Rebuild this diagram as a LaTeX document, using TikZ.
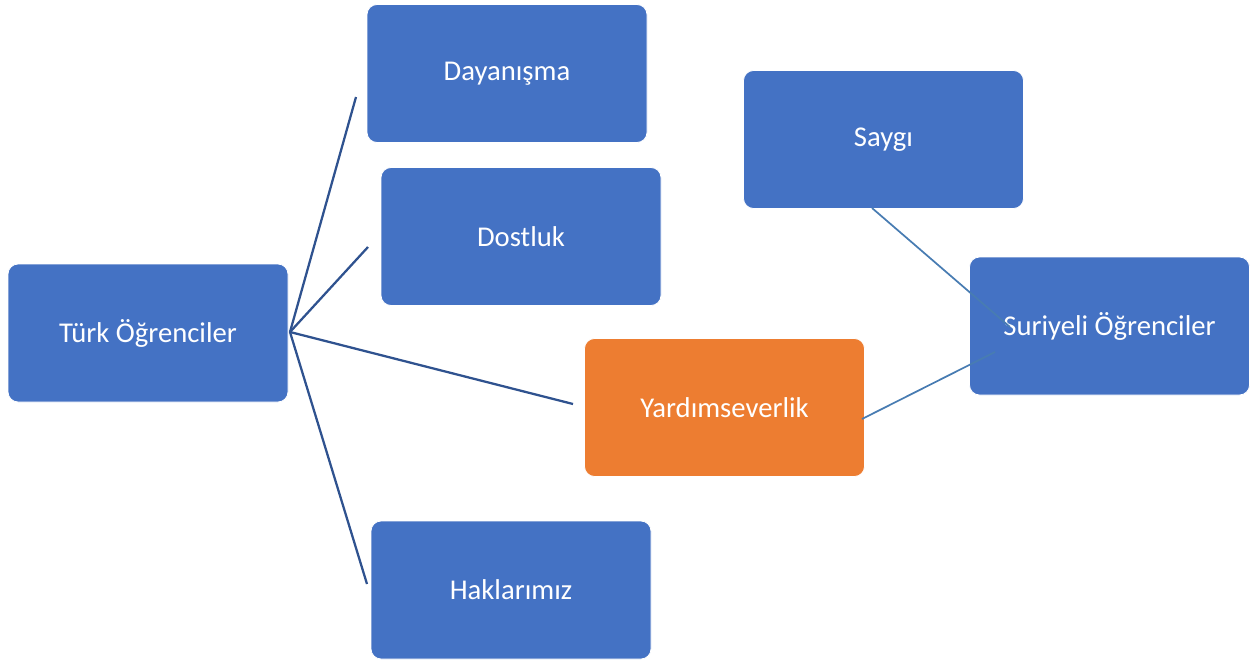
\documentclass[tikz,border=0pt]{standalone}
\usepackage{fontspec}
\setmainfont{Carlito}
\usepackage{xcolor}

\definecolor{boxblue}{RGB}{68,114,196}
\definecolor{boxorange}{RGB}{237,125,49}
\definecolor{linkdark}{RGB}{47,82,143}
\definecolor{linksoft}{RGB}{72,124,178}

\tikzset{
  box/.style={rectangle, rounded corners=7.5pt, fill=boxblue, draw=white, line width=0.6pt,
    minimum width=210pt, minimum height=103.5pt, text=white, inner sep=0.75pt,
    font=\fontsize{21.5}{26}\selectfont},
  hotbox/.style={box, fill=boxorange},
  link/.style={draw=linkdark, line width=1.7pt},
  softlink/.style={draw=linksoft, line width=1.3pt}
}

\begin{document}
\begin{tikzpicture}[x=0.75pt,y=0.75pt,yscale=-1,xscale=1]
\useasboundingbox (0,0) rectangle (1250,664);

%Shape: Rounded Rectangle
\node[box] (turk) at (148,333) {Türk Öğrenciler};
\node[box] (dayanisma) at (507,73.5) {Dayanışma};
\node[box] (dostluk) at (521,236.5) {Dostluk};
\node[hotbox] (yardim) at (724.5,407.5) {Yardımseverlik};
\node[box] (haklar) at (511,590) {Haklarımız};
\node[box] (saygi) at (883.5,139.5) {Saygı};
\node[box] (suriyeli) at (1109.5,326) {Suriyeli Öğrenciler};

%Straight Lines
\coordinate (hub) at (290,332);
\coordinate (dayanismaEnd) at (356,97);
\coordinate (dostlukEnd) at (368,247);
\coordinate (yardimEnd) at (573,404);
\coordinate (haklarEnd) at (367,584);
\draw[link] (hub) -- (dayanismaEnd);
\draw[link] (hub) -- (dostlukEnd);
\draw[link] (hub) -- (yardimEnd);
\draw[link] (hub) -- (haklarEnd);

%Straight Lines
\coordinate (saygiStart) at (872,208);
\coordinate (saygiEnd) at (1010,327);
\coordinate (yardimStart) at (862,419);
\coordinate (suriyeliEnd) at (995,352);
\draw[softlink] (saygiStart) -- (saygiEnd);
\draw[softlink] (yardimStart) -- (suriyeliEnd);

\end{tikzpicture}
\end{document}
